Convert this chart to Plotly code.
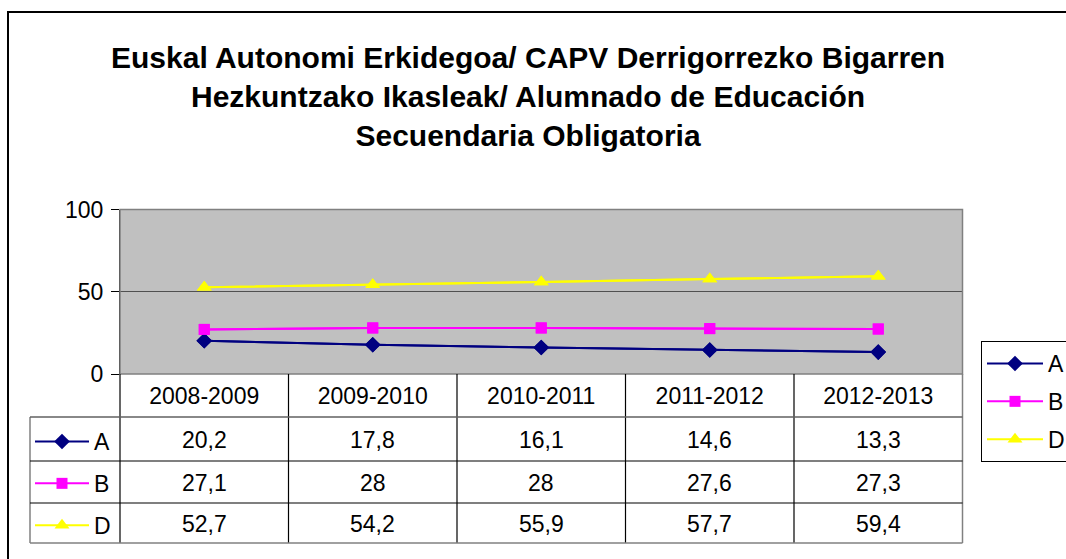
import plotly.graph_objects as go

W, H = 1066, 559

categories = ["2008-2009", "2009-2010", "2010-2011", "2011-2012", "2012-2013"]
series_names = ["A", "B", "D"]
values_A = [20.2, 17.8, 16.1, 14.6, 13.3]
values_B = [27.1, 28, 28, 27.6, 27.3]
values_D = [52.7, 54.2, 55.9, 57.7, 59.4]
y_ticks = [0, 50, 100]

title_lines = [
    "Euskal Autonomi Erkidegoa/ CAPV Derrigorrezko Bigarren",
    "Hezkuntzako Ikasleak/ Alumnado de Educación",
    "Secuendaria Obligatoria",
]

FONT = "Liberation Sans, Arial, sans-serif"
styles = {
    "A": dict(color="#000080", symbol="diamond", size=12),
    "B": dict(color="#FF00FF", symbol="square", size=11),
    "D": dict(color="#FFFF00", symbol="triangle-up", size=13),
}
series_values = {"A": values_A, "B": values_B, "D": values_D}


def X(p):
    return p / W


def Y(p):
    return 1 - p / H


fig = go.Figure()

# main series (right legend)
for name in series_names:
    st = styles[name]
    fig.add_trace(go.Scatter(
        x=categories, y=series_values[name], name=name, mode="lines+markers",
        line=dict(color=st["color"], width=2),
        marker=dict(color=st["color"], symbol=st["symbol"], size=st["size"], line=dict(width=0)),
        legend="legend", legendgroup="m" + name,
    ))
# duplicate series for the data-table keys (legend2)
for name in series_names:
    st = styles[name]
    fig.add_trace(go.Scatter(
        x=categories, y=series_values[name], name=name, mode="lines+markers",
        line=dict(color=st["color"], width=2),
        marker=dict(color=st["color"], symbol=st["symbol"], size=st["size"], line=dict(width=0)),
        legend="legend2", legendgroup="t" + name,
    ))

px_left, px_right, px_top, px_bottom = 120, 962.5, 209.5, 374

shapes = []
# outer chart border (cropped at right/bottom)
shapes.append(dict(type="rect", xref="paper", yref="paper", x0=X(8), x1=X(1200), y0=Y(700), y1=Y(12),
                   line=dict(color="black", width=2), layer="below"))
# plot area border
shapes.append(dict(type="rect", xref="paper", yref="paper", x0=X(px_left), x1=X(px_right), y0=Y(px_bottom), y1=Y(px_top),
                   line=dict(color="#808080", width=1.5), layer="above"))

# data table lines
col_edges = [120 + i * (px_right - 120) / len(categories) for i in range(len(categories) + 1)]
row_edges = [374, 417, 461, 503, 543]
for xe in col_edges[:-1]:
    shapes.append(dict(type="line", xref="paper", yref="paper", x0=X(xe), x1=X(xe), y0=Y(374), y1=Y(543),
                       line=dict(color="black", width=1.2)))
shapes.append(dict(type="line", xref="paper", yref="paper", x0=X(px_right), x1=X(px_right), y0=Y(374), y1=Y(543),
                   line=dict(color="#808080", width=1.5)))
shapes.append(dict(type="line", xref="paper", yref="paper", x0=X(30), x1=X(30), y0=Y(417), y1=Y(543),
                   line=dict(color="#808080", width=1.5)))
shapes.append(dict(type="line", xref="paper", yref="paper", x0=X(30), x1=X(px_right), y0=Y(417), y1=Y(417),
                   line=dict(color="#606060", width=1.3)))
for ye in row_edges[2:4]:
    shapes.append(dict(type="line", xref="paper", yref="paper", x0=X(30), x1=X(px_right), y0=Y(ye), y1=Y(ye),
                       line=dict(color="black", width=1.2)))
shapes.append(dict(type="line", xref="paper", yref="paper", x0=X(30), x1=X(px_right), y0=Y(543), y1=Y(543),
                   line=dict(color="#808080", width=1.5)))

annotations = []
annotations.append(dict(text="<br>".join("<b>%s</b>" % t for t in title_lines), x=X(527.5), y=Y(96),
                        xref="paper", yref="paper",
                        xanchor="center", yanchor="middle", showarrow=False,
                        font=dict(family=FONT, size=30, color="black")))


def fmt(v):
    return ("%g" % v).replace(".", ",")


row_centers = [439.5, 483, 523.5]
for name, yc in zip(series_names, row_centers):
    for cat, v in zip(categories, series_values[name]):
        annotations.append(dict(text=fmt(v), x=cat, y=Y(yc), xref="x", yref="paper",
                                xanchor="center", yanchor="middle", showarrow=False,
                                font=dict(family=FONT, size=23, color="black")))

fig.update_layout(
    width=W, height=H,
    margin=dict(l=0, r=0, t=0, b=0, autoexpand=False),
    paper_bgcolor="white",
    plot_bgcolor="#C0C0C0",
    font=dict(family=FONT, size=23, color="black"),
    shapes=shapes,
    annotations=annotations,
    xaxis=dict(
        domain=[X(px_left), X(px_right)], type="category", range=[-0.5, 4.5],
        showgrid=False, zeroline=False, showline=False, ticks="",
        tickfont=dict(family=FONT, size=23), ticklabelstandoff=6,
    ),
    yaxis=dict(
        domain=[Y(px_bottom), Y(px_top)], range=[0, 100], tickvals=y_ticks,
        showgrid=True, gridcolor="#505050", gridwidth=1.3, zeroline=False,
        showline=True, linecolor="black", linewidth=1.3,
        ticks="outside", ticklen=8, tickcolor="black", tickwidth=1.3,
        tickfont=dict(family=FONT, size=23), ticklabelstandoff=3,
    ),
    legend=dict(
        x=X(981), y=Y(341), xanchor="left", yanchor="top",
        bgcolor="white", bordercolor="black", borderwidth=1,
        font=dict(family=FONT, size=23), itemwidth=56, tracegroupgap=5,
    ),
    legend2=dict(
        x=X(30), y=Y(420), xanchor="left", yanchor="top",
        bgcolor="rgba(0,0,0,0)", borderwidth=0,
        font=dict(family=FONT, size=23), itemwidth=54, tracegroupgap=9,
    ),
)

fig.write_html("out.html", config={"displayModeBar": False})
with open("out.html", "r", encoding="utf-8") as f:
    html = f.read()
html = html.replace("<head>", "<head><style>html,body{margin:0;padding:0;overflow:hidden;}</style>", 1)
with open("out.html", "w", encoding="utf-8") as f:
    f.write(html)
